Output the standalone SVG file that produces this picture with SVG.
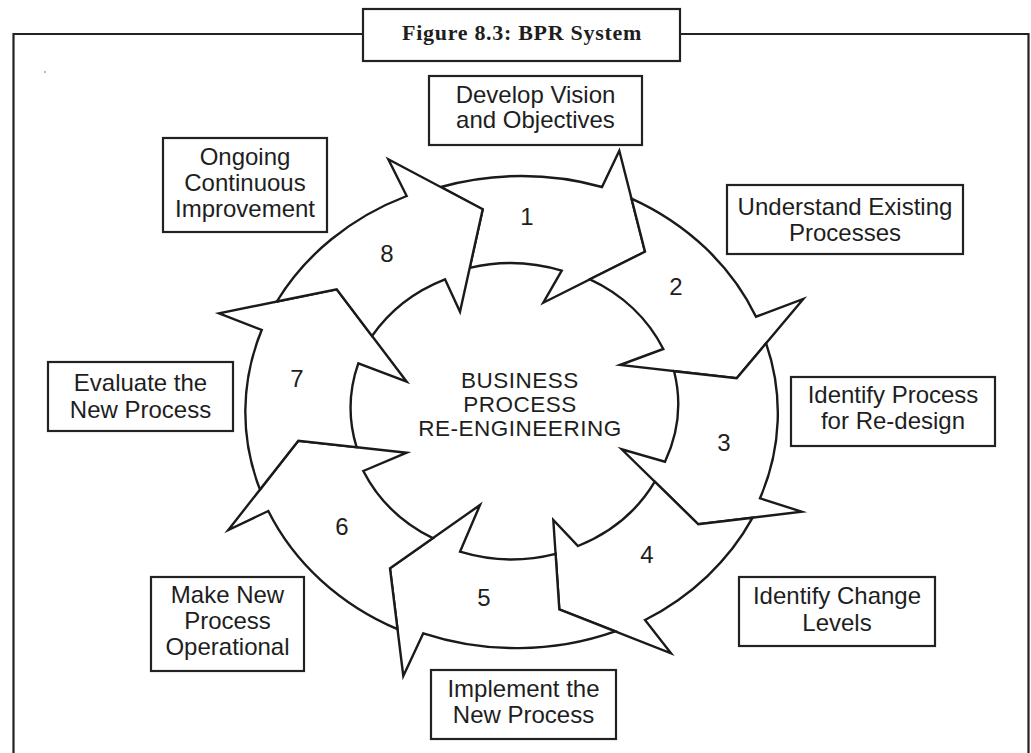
<svg xmlns="http://www.w3.org/2000/svg" width="1031" height="753" viewBox="0 0 1031 753">
  <style>
    .frame { fill: none; stroke: #222; stroke-width: 2.2; }
    .box rect { fill: #fff; stroke: #222; stroke-width: 2.2; }
    .lbl { font-family: "Liberation Sans", Arial, Helvetica, sans-serif; font-size: 24px; fill: #1e1e1e; text-anchor: middle; }
    .hub { font-family: "Liberation Sans", Arial, Helvetica, sans-serif; font-size: 22.5px; letter-spacing: 0.5px; fill: #1e1e1e; text-anchor: middle; }
    .title { font-family: "Liberation Serif", "Times New Roman", serif; font-weight: bold; font-size: 22px; letter-spacing: 0.7px; fill: #1e1e1e; text-anchor: middle; }
    .arrow { fill: #fff; stroke: #1a1a1a; stroke-width: 2.4; stroke-linejoin: miter; stroke-miterlimit: 10; }
  </style>

  <rect width="1031" height="753" fill="#fff"/>

  <!-- outer frame with the caption box sitting on its top edge -->
  <g id="frame">
    <path class="frame" d="M 13.5,753 V 34 H 363 M 680,34 H 1028.5 V 753"/>
    <g id="caption" class="box">
      <rect x="363" y="9" width="317" height="52"/>
      <text class="title" x="522" y="40">Figure 8.3: BPR System</text>
    </g>
    <circle cx="45" cy="72" r="0.8" fill="#666"/>
  </g>

  <!-- cycle of eight curved arrows; each tail tucks under the previous head -->
  <g id="connectors">
    <path id="arrow-1" class="arrow" d="M 441,187 A 268 238 0 0 1 602,187 L 619.3,150.7 L 645,251.7 L 543.3,302.7 L 561.7,270.7 A 162 147 0 0 0 469.7,267.9 L 482.7,209.3 Z"/>
    <path id="arrow-2" class="arrow" d="M 631.5,198.6 A 268 238 0 0 1 756,316.7 L 803.3,299 L 736.7,378.3 L 620,365 L 663.3,349 A 162 147 0 0 0 590,279.3 L 645,251.7 Z"/>
    <path id="arrow-3" class="arrow" d="M 766.1,343.3 A 268 238 0 0 1 760,498.3 L 801.7,511.7 L 698.3,524.3 L 621.7,449.3 L 665,461.7 A 162 147 0 0 0 674.1,371.2 L 736.7,378.3 Z"/>
    <path id="arrow-4" class="arrow" d="M 752.6,517.7 A 268 238 0 0 1 645,620 L 671,653.3 L 559.3,609.3 L 553.3,520 L 578,546 A 162 147 0 0 0 654.8,481.7 L 698.3,524.3 Z"/>
    <path id="arrow-5" class="arrow" d="M 615.2,631.3 A 268 238 0 0 1 423.3,633.3 L 403.3,676 L 390,568.3 L 480,505 L 460,551.7 A 162 147 0 0 0 555.6,553.8 L 559.3,609.3 Z"/>
    <path id="arrow-6" class="arrow" d="M 397.5,629.2 A 268 238 0 0 1 268.3,511 L 228.3,530 L 298.3,440.7 L 406.7,452.7 L 363.3,471 A 162 147 0 0 0 432.8,538.2 L 390,568.3 Z"/>
    <path id="arrow-7" class="arrow" d="M 260,489.6 A 268 238 0 0 1 261.7,330 L 219,313.3 L 336.7,289.3 L 406.7,381.7 L 358.3,363.3 A 162 147 0 0 0 356.6,447.2 L 298.3,440.7 Z"/>
    <path id="arrow-8" class="arrow" d="M 276.8,301.5 A 268 238 0 0 1 406.7,196 L 388.3,159.3 L 482.7,209.3 L 460,311.7 L 445,279.3 A 162 147 0 0 0 372,336 L 336.7,289.3 Z"/>

    <!-- step numbers on the arrows -->
    <g id="step-numbers">
      <text class="lbl" x="527" y="225">1</text>
      <text class="lbl" x="676" y="295">2</text>
      <text class="lbl" x="724" y="451">3</text>
      <text class="lbl" x="647" y="563">4</text>
      <text class="lbl" x="484" y="606">5</text>
      <text class="lbl" x="342" y="535">6</text>
      <text class="lbl" x="297" y="387">7</text>
      <text class="lbl" x="387" y="262">8</text>
    </g>
  </g>

  <!-- hub label -->
  <g id="hub">
    <text class="hub" x="520" y="388">BUSINESS</text>
    <text class="hub" x="520" y="412">PROCESS</text>
    <text class="hub" x="520" y="436">RE-ENGINEERING</text>
  </g>

  <!-- step boxes -->
  <g id="step-1" class="box">
    <rect x="429" y="76" width="213" height="69"/>
    <text class="lbl" x="535.5" y="103">Develop Vision</text>
    <text class="lbl" x="535.5" y="128">and Objectives</text>
  </g>
  <g id="step-2" class="box">
    <rect x="727" y="185" width="236" height="69"/>
    <text class="lbl" x="845" y="215">Understand Existing</text>
    <text class="lbl" x="845" y="241">Processes</text>
  </g>
  <g id="step-3" class="box">
    <rect x="791" y="377" width="204" height="69"/>
    <text class="lbl" x="893" y="403">Identify Process</text>
    <text class="lbl" x="893" y="429">for Re-design</text>
  </g>
  <g id="step-4" class="box">
    <rect x="739" y="577" width="196" height="69"/>
    <text class="lbl" x="837" y="604">Identify Change</text>
    <text class="lbl" x="837" y="631">Levels</text>
  </g>
  <g id="step-5" class="box">
    <rect x="431" y="670" width="185" height="69"/>
    <text class="lbl" x="523.5" y="697">Implement the</text>
    <text class="lbl" x="523.5" y="723">New Process</text>
  </g>
  <g id="step-6" class="box">
    <rect x="151" y="577" width="153" height="94"/>
    <text class="lbl" x="227.5" y="603">Make New</text>
    <text class="lbl" x="227.5" y="629">Process</text>
    <text class="lbl" x="227.5" y="655">Operational</text>
  </g>
  <g id="step-7" class="box">
    <rect x="48" y="362" width="185" height="69"/>
    <text class="lbl" x="140.5" y="391">Evaluate the</text>
    <text class="lbl" x="140.5" y="418">New Process</text>
  </g>
  <g id="step-8" class="box">
    <rect x="163" y="138" width="164" height="94"/>
    <text class="lbl" x="245" y="165">Ongoing</text>
    <text class="lbl" x="245" y="191">Continuous</text>
    <text class="lbl" x="245" y="217">Improvement</text>
  </g>
</svg>
